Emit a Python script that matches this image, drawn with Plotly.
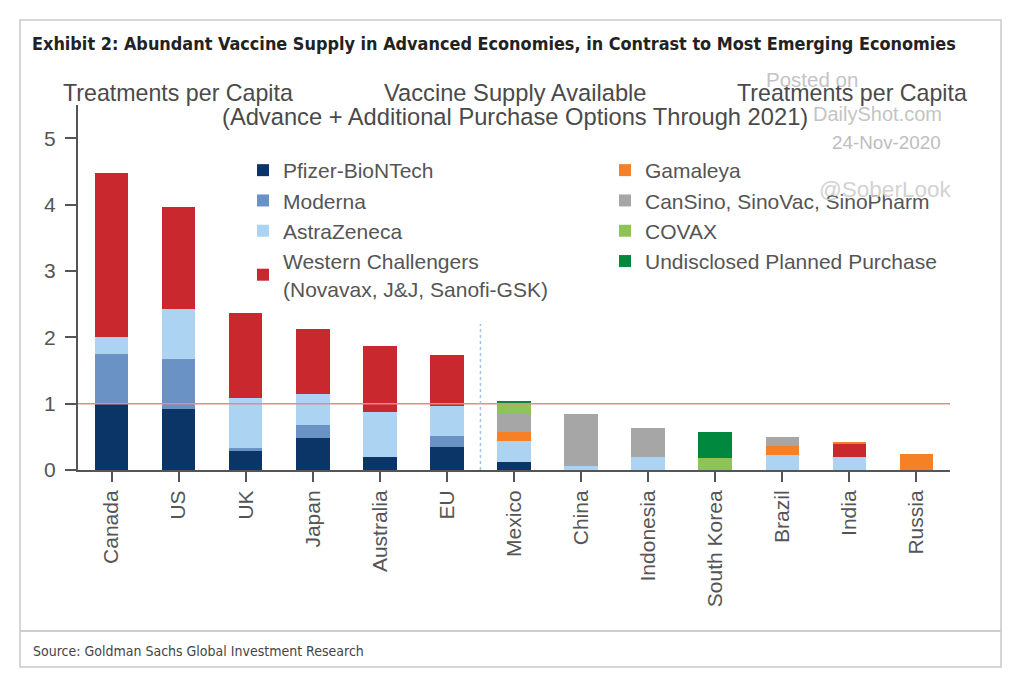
import plotly.graph_objects as go

countries = ["Canada", "US", "UK", "Japan", "Australia", "EU", "Mexico",
             "China", "Indonesia", "South Korea", "Brazil", "India", "Russia"]

pfizer      = [1.00, 0.925, 0.30, 0.475, 0.20, 0.34, 0.125, 0, 0, 0, 0, 0, 0]
moderna     = [0.75, 0.75, 0.03, 0.20, 0, 0.175, 0, 0, 0, 0, 0, 0, 0]
astrazeneca = [0.26, 0.75, 0.76, 0.465, 0.67, 0.445, 0.31, 0.06, 0.19, 0, 0.225, 0.20, 0]
western     = [2.46, 1.535, 1.27, 0.985, 1.00, 0.775, 0, 0, 0, 0, 0, 0.205, 0]
gamaleya    = [0, 0, 0, 0, 0, 0, 0.145, 0, 0, 0, 0.135, 0.02, 0.245]
chinese     = [0, 0, 0, 0, 0, 0, 0.265, 0.79, 0.45, 0, 0.13, 0, 0]
covax       = [0, 0, 0, 0, 0, 0, 0.16, 0, 0, 0.18, 0, 0, 0]
undisclosed = [0, 0, 0, 0, 0, 0, 0.04, 0, 0, 0.40, 0, 0, 0]

series_names = ["Pfizer-BioNTech", "Moderna", "AstraZeneca",
                "Western Challengers<br>(Novavax, J&J, Sanofi-GSK)",
                "Gamaleya", "CanSino, SinoVac, SinoPharm", "COVAX",
                "Undisclosed Planned Purchase"]
series_values = [pfizer, moderna, astrazeneca, western, gamaleya, chinese, covax, undisclosed]
series_colors = ["#0b3567", "#6a92c5", "#acd3f1", "#c8282e",
                 "#f58026", "#a6a6a6", "#8dc453", "#00883f"]
series_legend = ["legend"] * 4 + ["legend2"] * 4

y_ticks = [0, 1, 2, 3, 4, 5]
reference_level = 1
divider_position = 5.5
divider_height = 2.2

# pixel geometry of the plot area
L, R, T, B = 78, 950, 105, 470
W, H = 1024, 678


def px(x):
    return (x - L) / (R - L)


def py(y):
    return (B - y) / (B - T)


fig = go.Figure()
for name, vals, col, lg in zip(series_names, series_values, series_colors, series_legend):
    fig.add_trace(go.Bar(x=countries, y=vals, name=name, marker_color=col,
                         marker_line_width=0, legend=lg))

AX = "#555555"
TXT = "#555555"
BASE = "Liberation Sans, Arial, sans-serif"
NARROW = "Liberation Sans Narrow, DejaVu Sans Condensed, Arial Narrow, sans-serif"

fig.update_layout(
    width=W, height=H,
    margin=dict(l=L, r=W - R, t=T, b=H - B, autoexpand=False),
    paper_bgcolor="white", plot_bgcolor="white",
    barmode="stack", bargap=0.5,
    font=dict(family=BASE, size=20, color=TXT),
    xaxis=dict(showline=True, linecolor=AX, linewidth=2, ticks="outside",
               ticklen=10, tickwidth=2, tickcolor=AX, tickangle=-90,
               tickfont=dict(size=21, color=TXT), showgrid=False),
    yaxis=dict(range=[0, 5.5], tickvals=y_ticks, showline=True, linecolor=AX,
               linewidth=2, ticks="outside", ticklen=11, tickwidth=2, tickcolor=AX,
               ticklabelstandoff=5,
               tickfont=dict(size=21, color=TXT), showgrid=False, zeroline=False),
    yaxis2=dict(range=[0, 5.5], tickvals=y_ticks, overlaying="y", side="right",
                anchor="x", showline=True, linecolor=AX, linewidth=2,
                ticks="outside", ticklen=11, tickwidth=2, tickcolor=AX,
                ticklabelstandoff=6,
                tickfont=dict(size=21, color=TXT), showgrid=False, zeroline=False),
    legend=dict(x=px(243), xanchor="left", y=py(150), yanchor="top",
                bgcolor="rgba(0,0,0,0)", font=dict(size=21, color=TXT),
                traceorder="normal", itemclick=False),
    legend2=dict(x=px(605), xanchor="left", y=py(150), yanchor="top",
                 bgcolor="rgba(0,0,0,0)", font=dict(size=21, color=TXT),
                 traceorder="normal", itemclick=False),
)

# reference line at 1 and divider between advanced / emerging economies
fig.add_shape(type="line", xref="paper", yref="y", x0=0, x1=1,
              y0=reference_level, y1=reference_level,
              line=dict(color="#e58a8c", width=1.5), layer="above")
fig.add_shape(type="line", xref="x", yref="y", x0=divider_position, x1=divider_position,
              y0=0, y1=divider_height, line=dict(color="#9dc3e6", width=1.5, dash="dot"))

# outer frame and footer separator
fig.add_shape(type="rect", xref="paper", yref="paper", x0=px(20), x1=px(1001),
              y0=py(667), y1=py(20), line=dict(color="#c9c9c9", width=1.5), layer="below")
fig.add_shape(type="line", xref="paper", yref="paper", x0=px(20), x1=px(1001),
              y0=py(631), y1=py(631), line=dict(color="#cdcdcd", width=2))


def note(text, x, y, size, color=TXT, anchor="left", family=BASE):
    fig.add_annotation(text=text, x=px(x), y=py(y), xref="paper", yref="paper",
                       xanchor=anchor, yanchor="middle", showarrow=False,
                       font=dict(size=size, color=color, family=family))


note("<b>Exhibit 2: Abundant Vaccine Supply in Advanced Economies, in Contrast to Most Emerging Economies</b>",
     30, 43, 17.9, "#222222", family=NARROW)
note("Treatments per Capita", 61, 93, 23.2, "#4a4a4a")
note("Treatments per Capita", 969, 93, 23.2, "#4a4a4a", anchor="right")
note("Vaccine Supply Available", 515, 93, 23.7, "#4a4a4a", anchor="center")
note("(Advance + Additional Purchase Options Through 2021)", 515, 117, 23.7, "#4a4a4a", anchor="center")
note("Posted on", 812, 79, 20.5, "#c4c4c4", anchor="center")
note("DailyShot.com", 944, 114, 20, "#c4c4c4", anchor="right")
note("24-Nov-2020", 943, 142, 18.8, "#bdbdbd", anchor="right")
note("@SoberLook", 953, 189, 22.5, "#d2d2d2", anchor="right")
note("Source: Goldman Sachs Global Investment Research", 31, 651, 14, "#444444", family=NARROW)

fig.write_html("out.html", config={"displayModeBar": False},
               post_script="document.body.style.margin='0';")
